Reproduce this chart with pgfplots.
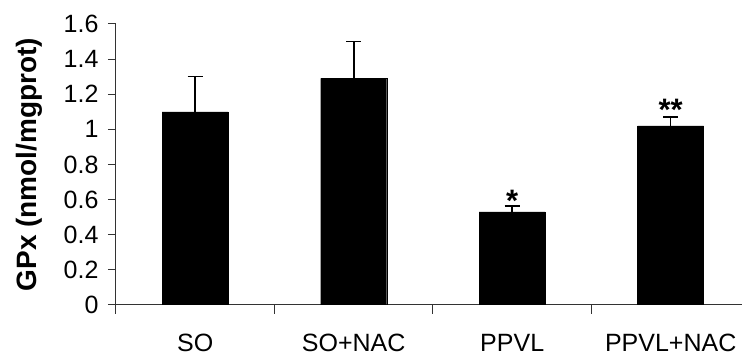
\documentclass[border=0pt]{standalone}
\usepackage{pgfplots}
\pgfplotsset{compat=1.18}
\usepackage{fontspec}
\setmainfont{Liberation Sans}
\begin{document}
\begin{tikzpicture}
\begin{axis}[
  scale only axis,
  width=626pt, height=281pt,
  xmin=-0.5, xmax=3.45,
  ymin=0, ymax=1.6,
  axis x line*=bottom, axis y line*=left,
  axis line style={line width=1pt, draw=black!80},
  ytick={0,0.2,...,1.6},
  yticklabels={0,0.2,0.4,0.6,0.8,1,1.2,1.4,1.6},
  xtick={0,1,2,3},
  xticklabels={SO,SO+NAC,PPVL,PPVL+NAC},
  minor xtick={-0.5,0.5,1.5,2.5},
  tick align=outside,
  major x tick style={draw=none},
  every tick/.style={line width=1pt, draw=black!80},
  major tick length=8pt,
  minor tick length=9pt,
  tick label style={font=\fontsize{25}{28}\selectfont},
  /pgf/number format/assume math mode=true,
  yticklabel style={xshift=-6pt},
  xticklabel style={yshift=-18pt},
  ylabel={\bfseries GPx (nmol/mgprot)},
  ylabel style={font=\fontsize{28}{30}\selectfont, yshift=14pt},
  ybar, bar width=66pt,
]
\addplot[fill=black, draw=black, bar shift=0pt,
  error bars/.cd, y dir=plus, y explicit,
  error bar style={line width=1.6pt, black},
  error mark options={line width=1.6pt, mark size=7.5pt, rotate=90}]
  coordinates {
  (0,1.10) +- (0,0.20)
  (1,1.29) +- (0,0.21)
  (2,0.53) +- (0,0.035)
  (3,1.02) +- (0,0.05)
};
\addplot[draw=none, fill=none, bar shift=0pt,
  nodes near coords, point meta=explicit symbolic,
  nodes near coords style={font=\fontsize{31}{32}\selectfont\bfseries, anchor=base, inner sep=0pt, yshift=0pt}]
  coordinates {
  (2,0.535) [*]
  (3,1.05) [**]
};
\coordinate (sw) at (rel axis cs:0,0);
\coordinate (ne) at (rel axis cs:1,1);
\end{axis}
\pgfresetboundingbox
\path[use as bounding box] ([xshift=-116pt,yshift=-53pt]sw) rectangle ([yshift=24pt]ne);
\end{tikzpicture}
\end{document}
